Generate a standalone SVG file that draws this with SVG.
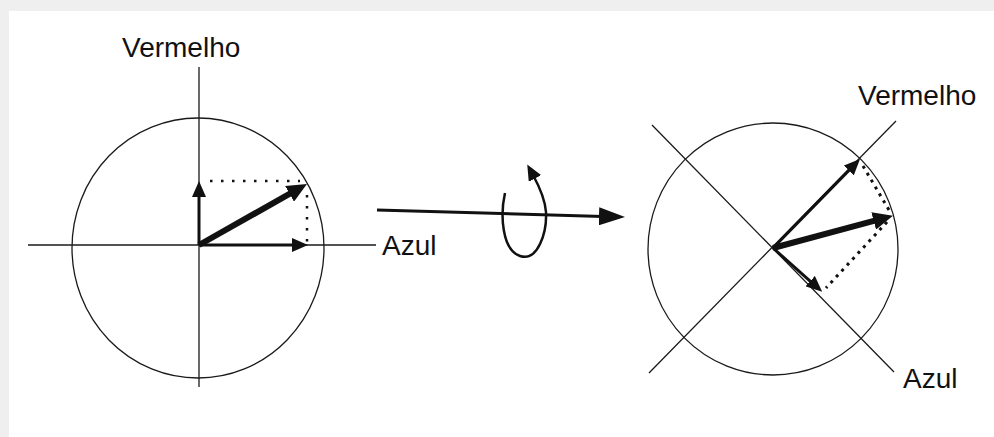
<svg xmlns="http://www.w3.org/2000/svg" width="994" height="437" viewBox="0 0 994 437">
<defs>
<style>
.thin{fill:none;stroke:#1a1a1a;stroke-width:1.3}
.vec{fill:none;stroke:#111;stroke-width:3}
.big{fill:none;stroke:#111;stroke-width:6}
.dot{fill:none;stroke:#111;stroke-width:2.5;stroke-dasharray:2.5 8.5}
.dot2{fill:none;stroke:#111;stroke-width:3;stroke-dasharray:3 5}
.lbl{font-family:"Liberation Sans",Arial,sans-serif;font-size:28px;fill:#111}
</style>
<marker id="ah" markerUnits="userSpaceOnUse" markerWidth="16" markerHeight="14" refX="4" refY="7" orient="auto"><path d="M0,0 L16,7 L0,14 z" fill="#111"/></marker>
<marker id="ahb" markerUnits="userSpaceOnUse" markerWidth="20" markerHeight="18" refX="5" refY="9" orient="auto"><path d="M0,0 L20,9 L0,18 z" fill="#111"/></marker>
<marker id="ahm" markerUnits="userSpaceOnUse" markerWidth="26" markerHeight="18" refX="4" refY="9" orient="auto"><path d="M0,0 L26,9 L0,18 z" fill="#111"/></marker>
</defs>
<rect x="0" y="0" width="994" height="437" fill="#efefef"/>
<rect x="9" y="11" width="985" height="426" fill="#ffffff"/>

<g id="left-diagram">
<ellipse class="thin" cx="198" cy="248" rx="126" ry="130"/>
<line class="thin" x1="199" y1="67" x2="199" y2="387"/>
<line class="thin" x1="28" y1="245" x2="376" y2="245"/>
<line class="dot" x1="210" y1="181" x2="300" y2="181"/>
<line class="dot" x1="307" y1="195" x2="307" y2="242"/>
<line class="vec" x1="199" y1="245" x2="199" y2="193" marker-end="url(#ah)"/>
<line class="vec" x1="199" y1="245" x2="296" y2="245" marker-end="url(#ah)"/>
<line class="big" x1="199" y1="245" x2="293.9" y2="191.4" marker-end="url(#ahb)"/>
<text class="lbl" x="122" y="57">Vermelho</text>
<text class="lbl" x="382" y="255">Azul</text>
</g>

<g id="connectors">
<line class="vec" x1="377" y1="210" x2="603" y2="216.4" marker-end="url(#ahm)"/>
<path class="vec" style="stroke-width:2.5" d="M505,193 C500,215 502,250 520,256 C538,262 547,232 546,212 C545,198 539,186 533,175" marker-end="url(#ah)"/>
</g>

<g id="right-diagram">
<ellipse class="thin" cx="773" cy="249" rx="125" ry="126"/>
<line class="thin" x1="652" y1="125" x2="894" y2="372"/>
<line class="thin" x1="649" y1="373" x2="896" y2="121"/>
<line class="dot2" x1="863" y1="166" x2="889" y2="210"/>
<line class="dot2" x1="887" y1="222" x2="826" y2="288"/>
<line class="vec" x1="773" y1="248" x2="851.6" y2="167.6" marker-end="url(#ah)"/>
<line class="big" x1="773" y1="248" x2="878.5" y2="219.6" marker-end="url(#ahb)"/>
<line class="vec" x1="773" y1="248" x2="813.2" y2="283.8" marker-end="url(#ah)"/>
<text class="lbl" x="858" y="105">Vermelho</text>
<text class="lbl" x="903" y="388">Azul</text>
</g>
</svg>
